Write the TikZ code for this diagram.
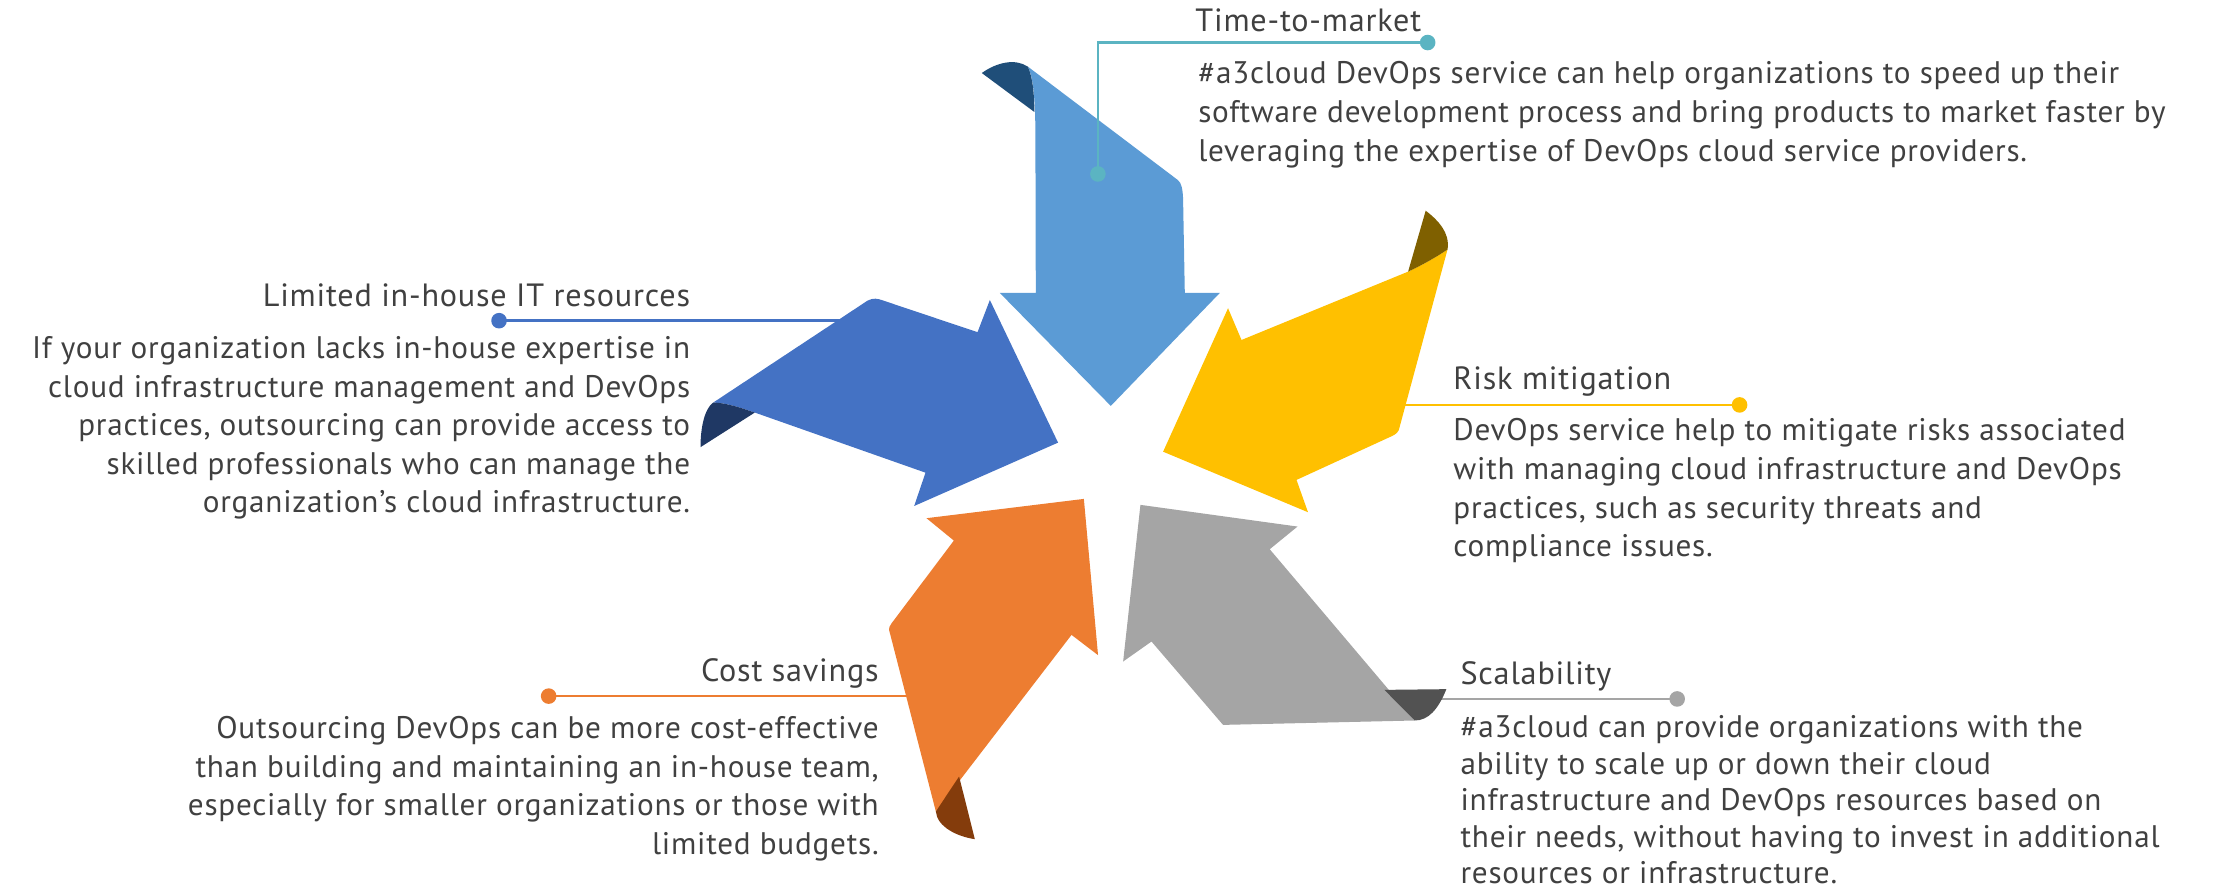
\documentclass[tikz,border=0pt]{standalone}
\usepackage{fontspec}
\setmainfont{PT Sans}[LetterSpace=2.5]
\definecolor{txt}{HTML}{404040}
\definecolor{lblue}{HTML}{5B9BD5}
\definecolor{lbluedk}{HTML}{1F4E79}
\definecolor{yel}{HTML}{FFC000}
\definecolor{yeldk}{HTML}{7F6000}
\definecolor{gry}{HTML}{A5A5A5}
\definecolor{grydk}{HTML}{525252}
\definecolor{org}{HTML}{ED7D31}
\definecolor{orgdk}{HTML}{843C0C}
\definecolor{blu}{HTML}{4472C4}
\definecolor{bludk}{HTML}{1F3864}
\definecolor{teal}{HTML}{5BB4C2}
\tikzset{
  ttl/.style={font=\fontsize{22.7}{27}\selectfont, text=txt, inner sep=0pt},
  bdy/.style={font=\fontsize{22}{27}\selectfont, text=txt, inner sep=0pt},
  lead/.style={line width=1.9pt},
  dotm/.style={circle, inner sep=0pt, minimum size=11pt},
}
\begin{document}
\begin{tikzpicture}[x=1pt,y=-1pt]
\useasboundingbox (0,0) rectangle (1568,629.2);

% ---------- leader lines behind shapes ----------
\coordinate (yA) at (990,285.6);
\node[dotm, fill=yel] (yD) at (1227,285.6) {};
\draw[lead, yel] (yA) -- (yD.center);

\coordinate (gA) at (1012,493);
\node[dotm, fill=gry] (gD) at (1183,493) {};
\draw[lead, gry] (gA) -- (gD.center);

\coordinate (oA) at (645,491);
\node[dotm, fill=org] (oD) at (387,491) {};
\draw[lead, org] (oD.center) -- (oA);

\coordinate (bA) at (595,226.2);
\node[dotm, fill=blu] (bD) at (352,226.2) {};
\draw[lead, blu] (bD.center) -- (bA);

% ---------- light blue arrow (down) ----------
\fill[lblue] (725,47) -- (830.8,127) .. controls (833.5,129) and (834.3,134) .. (834.5,141)
  -- (835.7,206.6) -- (860.4,206.6) -- (783.5,286.3) -- (705.2,206.6) -- (730.6,206.6)
  -- (730.3,90) .. controls (730,70) and (729,55) .. (725,47) -- cycle;
\fill[lbluedk] (692.5,51.5) .. controls (703,44) and (716,41) .. (725,47)
  .. controls (728.5,55) and (729.5,66) .. (729.6,79) -- cycle;

% ---------- yellow arrow ----------
\fill[yel] (1021,176) -- (987.3,300.9) .. controls (986.8,304.5) and (985,306) .. (982,307.5)
  -- (914.5,338.5) -- (922.6,361.3) -- (820.4,318.6) -- (866.2,217.4) -- (875.7,239.8)
  -- (993.2,191.6) .. controls (1003,187) and (1012,182) .. (1021,176) -- cycle;
\fill[yeldk] (1005.6,148.6) .. controls (1014,155) and (1023,164) .. (1021,176)
  .. controls (1012,182) and (1003,187) .. (993.2,191.6) -- cycle;

% ---------- gray arrow ----------
\fill[gry] (804.4,356.1) -- (915.2,371.4) -- (895.6,387.4) -- (997.9,508.2)
  -- (862.7,511.3) -- (812.2,452.5) -- (792.2,466.6) -- cycle;
\fill[grydk] (976.5,486.6) -- (1020.2,486.1) .. controls (1014.3,500.7) and (1007.3,508.2) .. (997.9,508.2) -- cycle;

% ---------- orange arrow ----------
\fill[org] (764.5,351.9) -- (653.5,365.5) -- (672.8,381.3) -- (628.9,439.6)
  .. controls (627.5,441.5) and (626.8,443) .. (627.1,444.3) -- (660.1,572.4)
  -- (755.8,447.8) -- (774.5,462.1) -- cycle;
\fill[orgdk] (676.5,547.7) -- (687.6,591.9) .. controls (674.7,590) and (661,583) .. (660.1,572.4) -- cycle;

% ---------- blue arrow ----------
\fill[blu] (503,284) -- (612,212) .. controls (616,210) and (619,210.5) .. (623,212)
  -- (689.5,234.3) -- (698.2,211.6) -- (746.3,312.2) -- (644.8,356.9) -- (652.8,333.4)
  -- (532.4,291) .. controls (518,286) and (510,284) .. (503,284) -- cycle;
\fill[bludk] (503,284) .. controls (497.2,288) and (494.1,300.9) .. (494.1,315.4)
  -- (532.4,291) .. controls (518,286) and (510,284) .. (503,284) -- cycle;

% ---------- teal leader (on top) ----------
\node[dotm, fill=teal] (tD) at (1007,30) {};
\node[dotm, fill=teal] (tB) at (774.4,122.7) {};
\coordinate (tC) at (774.4,30);
\draw[lead, teal] (tB.center) -- (tC) -- (tD.center);

% ---------- texts ----------
\node[ttl, anchor=base west] (t0) at (843,22) {Time-to-market};
\node[bdy, anchor=base west] (t1) at (845,59) {\#a3cloud DevOps service can help organizations to speed up their};
\node[bdy, anchor=base west] (t2) at (845,86.5) {software development process and bring products to market faster by};
\node[bdy, anchor=base west] (t3) at (845,114) {leveraging the expertise of DevOps cloud service providers.};

\node[ttl, anchor=base west] (r0) at (1025,274.5) {Risk mitigation};
\node[bdy, anchor=base west] (r1) at (1025,311) {DevOps service help to mitigate risks associated};
\node[bdy, anchor=base west] (r2) at (1025,338.2) {with managing cloud infrastructure and DevOps};
\node[bdy, anchor=base west] (r3) at (1025,365.4) {practices, such as security threats and};
\node[bdy, anchor=base west] (r4) at (1025,392.6) {compliance issues.};

\node[ttl, anchor=base west] (s0) at (1030,482.5) {Scalability};
\node[bdy, anchor=base west] (s1) at (1030,520) {\#a3cloud can provide organizations with the};
\node[bdy, anchor=base west] (s2) at (1030,546) {ability to scale up or down their cloud};
\node[bdy, anchor=base west] (s3) at (1030,572) {infrastructure and DevOps resources based on};
\node[bdy, anchor=base west] (s4) at (1030,598) {their needs, without having to invest in additional};
\node[bdy, anchor=base west] (s5) at (1030,623.5) {resources or infrastructure.};

\node[ttl, anchor=base east] (c0) at (620,481) {Cost savings};
\node[bdy, anchor=base east] (c1) at (620,521) {Outsourcing DevOps can be more cost-effective};
\node[bdy, anchor=base east] (c2) at (620,548.2) {than building and maintaining an in-house team,};
\node[bdy, anchor=base east] (c3) at (620,575.4) {especially for smaller organizations or those with};
\node[bdy, anchor=base east] (c4) at (620,602.6) {limited budgets.};

\node[ttl, anchor=base east] (l0) at (487,216.3) {Limited in-house IT resources};
\node[bdy, anchor=base east] (l1) at (487,253) {If your organization lacks in-house expertise in};
\node[bdy, anchor=base east] (l2) at (487,280.2) {cloud infrastructure management and DevOps};
\node[bdy, anchor=base east] (l3) at (487,307.4) {practices, outsourcing can provide access to};
\node[bdy, anchor=base east] (l4) at (487,334.6) {skilled professionals who can manage the};
\node[bdy, anchor=base east] (l5) at (487,361.8) {organization's cloud infrastructure.};
\end{tikzpicture}
\end{document}
